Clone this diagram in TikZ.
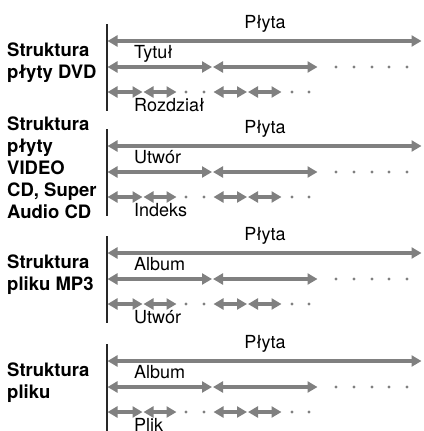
\documentclass[tikz,border=0pt]{standalone}
\usepackage{fontspec}
\setmainfont{TeX Gyre Heros}
\usetikzlibrary{arrows.meta}
\definecolor{trackgray}{RGB}{128, 128, 128}
\definecolor{rulegray}{RGB}{40, 40, 40}
\tikzset{
    trackline/.style={draw=trackgray, line width=4pt, shorten <=0.5pt, shorten >=0.5pt,
        arrows={Triangle[length=10pt, width=11pt]-Triangle[length=10pt, width=11pt]}},
    divider/.style={line width=1.6pt, draw=rulegray},
    lbl/.style={inner sep=0pt, font=\fontsize{18}{22}\selectfont},
    caption/.style={inner sep=0pt, anchor=west, align=left, font=\fontsize{18.5}{22}\selectfont\bfseries},
    gap/.style={fill=trackgray},
}
\begin{document}
\begin{tikzpicture}[x=1pt, y=-1pt]
    \useasboundingbox (0,0) rectangle (423,431);
    \foreach \i/\Y/\midlbl/\lowlbl/\txt in {
        1/41/Tytuł/Rozdział/{Struktura\\płyty DVD},
        2/146/Utwór/Indeks/{Struktura\\płyty\\VIDEO\\CD, Super\\Audio CD},
        3/253/Album/Utwór/{Struktura\\pliku MP3},
        4/361/Album/Plik/{Struktura\\pliku}} {
        % caption and divider
        \node[caption] (cap\i) at (7,\Y+22) {\txt};
        \coordinate (top\i) at (107,\Y-17);
        \coordinate (bot\i) at (107,\Y+70);
        \draw[divider] (top\i) -- (bot\i);
        % whole disc
        \coordinate (da\i) at (107,\Y);
        \coordinate (db\i) at (422,\Y);
        \draw[trackline] (da\i) -- (db\i);
        \node[lbl, anchor=base] (disc\i) at (265,\Y-13) {Płyta};
        % second level
        \coordinate (ta\i) at (107,\Y+26);
        \coordinate (tb\i) at (212.5,\Y+26);
        \coordinate (tc\i) at (318,\Y+26);
        \draw[trackline] (ta\i) -- (tb\i);
        \draw[trackline] (tb\i) -- (tc\i);
        \node[lbl, anchor=base west] (mid\i) at (134,\Y+17) {\midlbl};
        \foreach \x in {336,354,372,389,407}
            \fill[gap] (\x,\Y+26) circle (1.6pt);
        % third level
        \coordinate (ca\i) at (107,\Y+51);
        \coordinate (cb\i) at (143,\Y+51);
        \coordinate (cc\i) at (177,\Y+51);
        \coordinate (cd\i) at (213,\Y+51);
        \coordinate (ce\i) at (247.5,\Y+51);
        \coordinate (cf\i) at (282,\Y+51);
        \draw[trackline] (ca\i) -- (cb\i);
        \draw[trackline] (cb\i) -- (cc\i);
        \draw[trackline] (cd\i) -- (ce\i);
        \draw[trackline] (ce\i) -- (cf\i);
        \node[lbl, anchor=base west] (low\i) at (134,\Y+70) {\lowlbl};
        \foreach \x in {186,204,292,309}
            \fill[gap] (\x,\Y+51) circle (1.6pt);
    }
\end{tikzpicture}
\end{document}
